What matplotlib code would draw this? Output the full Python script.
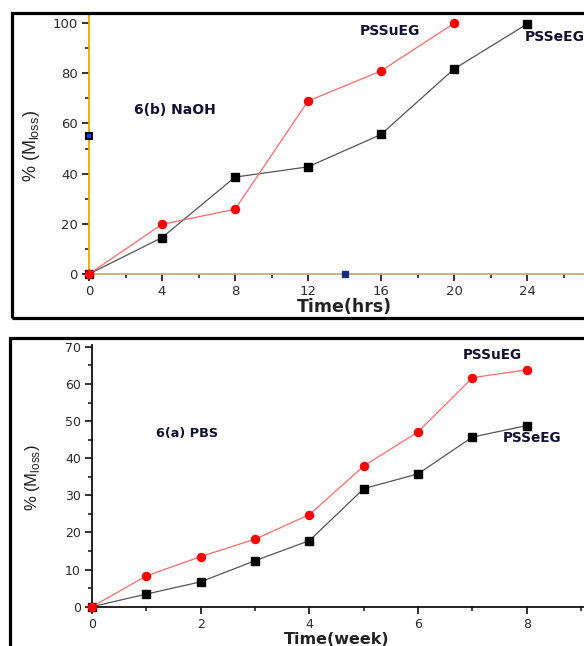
import matplotlib
matplotlib.use("Agg")
import matplotlib.pyplot as plt
from matplotlib.patches import Rectangle
from matplotlib.ticker import MultipleLocator

# ---------------- data ----------------
# Panel 6(b) NaOH (time in hours)
naoh_time_sueg = [0, 4, 8, 12, 16, 20]
naoh_sueg = [0, 19.8, 25.8, 68.9, 80.9, 99.9]
naoh_time_seeg = [0, 4, 8, 12, 16, 20, 24]
naoh_seeg = [0, 14.5, 38.6, 42.7, 55.6, 81.7, 99.6]
naoh_xticks = [0, 4, 8, 12, 16, 20, 24]
naoh_yticks = [0, 20, 40, 60, 80, 100]
naoh_stray_x = [0, 14]
naoh_stray_y = [55, 0]

# Panel 6(a) PBS (time in weeks)
pbs_time = [0, 1, 2, 3, 4, 5, 6, 7, 8]
pbs_sueg = [0, 8.3, 13.5, 18.2, 24.8, 37.9, 47.1, 61.7, 63.8]
pbs_seeg = [0, 3.4, 6.7, 12.4, 17.8, 31.8, 35.8, 45.7, 48.8]
pbs_xticks = [0, 2, 4, 6, 8]
pbs_yticks = [0, 10, 20, 30, 40, 50, 60, 70]

W, H = 584, 646
fig = plt.figure(figsize=(W / 100, H / 100), dpi=100)
fig.patch.set_facecolor("white")


def fx(x):
    return x / W


def fy(y):
    return 1 - y / H


def axes_px(left, right, top, bottom):
    return [fx(left), fy(bottom), (right - left) / W, (bottom - top) / H]


RED_LINE = "#ff6a6a"
RED = "#ff0000"
BLK_LINE = "#555555"
TXT = "#111133"
TICK_TXT = "#2a2a2a"


def style_axes(ax, spine_left, spine_bottom):
    for s in ("top", "right"):
        ax.spines[s].set_visible(False)
    ax.spines["left"].set_color(spine_left)
    ax.spines["bottom"].set_color(spine_bottom)
    ax.spines["left"].set_linewidth(1.3)
    ax.spines["bottom"].set_linewidth(1.3)
    ax.tick_params(which="major", direction="out", length=5, width=1.2,
                   color="#111111", labelsize=9.5, labelcolor=TICK_TXT, pad=3)
    ax.tick_params(which="minor", direction="out", length=3, width=1.1,
                   color="#111111")
    for lab in ax.get_xticklabels() + ax.get_yticklabels():
        lab.set_family("DejaVu Sans")
    ax.set_facecolor("none")


# ---------------- panel borders ----------------
fig.add_artist(Rectangle((fx(12), fy(318)), fx(600) - fx(12), fy(13) - fy(318),
                         transform=fig.transFigure, fill=False,
                         edgecolor="black", linewidth=2.3, clip_on=False))
fig.add_artist(Rectangle((fx(10), fy(660)), fx(600) - fx(10), fy(338) - fy(660),
                         transform=fig.transFigure, fill=False,
                         edgecolor="black", linewidth=2.3, clip_on=False))

# ---------------- top panel: NaOH ----------------
ax1 = fig.add_axes(axes_px(89, 600, 13, 274))
ax1.set_xlim(0, 28)
ax1.set_ylim(0, 104)
ax1.plot(naoh_time_seeg, naoh_seeg, color=BLK_LINE, lw=0.9, marker="s",
         ms=5.2, mfc="black", mec="black", clip_on=False, zorder=3)
ax1.plot(naoh_time_sueg, naoh_sueg, color=RED_LINE, lw=0.9, marker="o",
         ms=5.8, mfc=RED, mec=RED, clip_on=False, zorder=4)
ax1.plot(naoh_stray_x[:1], naoh_stray_y[:1], ls="none", marker="s", ms=5,
         mfc="#1a3cff", mec="black", mew=1.5, clip_on=False, zorder=5)
ax1.plot(naoh_stray_x[1:], naoh_stray_y[1:], ls="none", marker="s", ms=4,
         mfc="#1a2a80", mec="#1a2a80", clip_on=False, zorder=5)
ax1.set_xticks(naoh_xticks)
ax1.set_yticks(naoh_yticks)
ax1.xaxis.set_minor_locator(MultipleLocator(2))
ax1.yaxis.set_minor_locator(MultipleLocator(10))
style_axes(ax1, "#e8aa00", "#c4b07c")

# ---------------- bottom panel: PBS ----------------
ax2 = fig.add_axes(axes_px(92, 592, 345, 606.7))
ax2.set_xlim(0, 9.2)
ax2.set_ylim(0, 70.5)
ax2.plot(pbs_time, pbs_seeg, color=BLK_LINE, lw=0.9, marker="s",
         ms=5.2, mfc="black", mec="black", clip_on=False, zorder=3)
ax2.plot(pbs_time, pbs_sueg, color=RED_LINE, lw=0.9, marker="o",
         ms=5.8, mfc=RED, mec=RED, clip_on=False, zorder=4)
ax2.set_xticks(pbs_xticks)
ax2.set_yticks(pbs_yticks)
ax2.xaxis.set_minor_locator(MultipleLocator(1))
ax2.yaxis.set_minor_locator(MultipleLocator(5))
style_axes(ax2, "#111111", "#111111")
ax2.tick_params(which="major", labelsize=9)

# ---------------- texts ----------------
ylab = r"% (M$_{\mathregular{loss}}$)"
fig.text(fx(32), fy(146), ylab, rotation=90, ha="center", va="center",
         fontsize=13, family="Liberation Sans", color="#222222")
fig.text(fx(32), fy(478), ylab, rotation=90, ha="center", va="center",
         fontsize=12, family="Liberation Sans", color="#222222")

fig.text(fx(344), fy(307), "Time(hrs)", ha="center", va="center",
         fontsize=12.5, weight="bold", family="DejaVu Sans", color="#222222")
fig.text(fx(337), fy(632), "Time(week)", ha="center", va="top",
         fontsize=11.5, weight="bold", family="DejaVu Sans", color="#222222")

fig.text(fx(390), fy(31), "PSSuEG", ha="center", va="center",
         fontsize=10, weight="bold", color=TXT)
fig.text(fx(525), fy(37), "PSSeEG", ha="left", va="center",
         fontsize=10, weight="bold", color=TXT)
fig.text(fx(175), fy(110), "6(b) NaOH", ha="center", va="center",
         fontsize=10, weight="bold", color=TXT)

fig.text(fx(492), fy(355), "PSSuEG", ha="center", va="center",
         fontsize=9.8, weight="bold", color=TXT)
fig.text(fx(532), fy(438), "PSSeEG", ha="center", va="center",
         fontsize=9.8, weight="bold", color=TXT)
fig.text(fx(187), fy(433), "6(a) PBS", ha="center", va="center",
         fontsize=9.3, weight="bold", color=TXT)

fig.savefig("out.png", dpi=100, facecolor="white")
